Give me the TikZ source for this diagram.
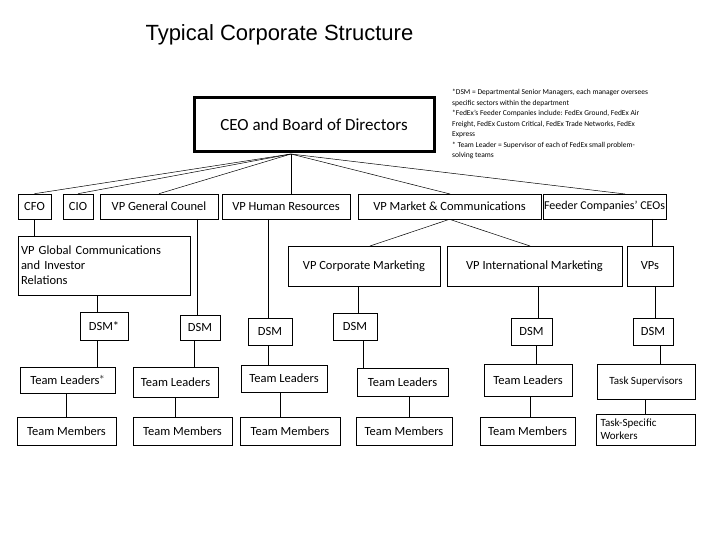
\documentclass[tikz,border=0pt]{standalone}
\usepackage{fontspec}
\setmainfont{Carlito}
\newfontfamily\titlefont{Liberation Sans}
\newcommand{\bbox}[7]{\node[bx,minimum width={#4-#2},minimum height={#5-#3},#6] (#1) at ({(#2+#4)/2},{(#3+#5)/2}) {#7};}
\begin{document}
\begin{tikzpicture}[x=1pt,y=-1pt,
  bx/.style={draw,line width=0.6pt,inner sep=1pt,font=\fontsize{12.5}{15}\selectfont},
  ln/.style={draw,line width=0.5pt}]
\useasboundingbox (0,0) rectangle (720,540);
\node[font=\titlefont\fontsize{22}{26}\selectfont,anchor=west] (title) at (142,35) {Typical Corporate Structure};
\node[draw,line width=3pt,minimum width=240,minimum height=54,font=\fontsize{17}{20}\selectfont] (ceo) at (314,125) {CEO and Board of Directors};
\node[anchor=north west,align=left,font=\fontsize{7.5}{10.5}\selectfont,inner sep=0pt] (note) at (452,89) {*DSM = Departmental Senior Managers, each manager oversees\\specific sectors within the department\\*FedEx's Feeder Companies include: FedEx Ground, FedEx Air\\Freight, FedEx Custom Critical, FedEx Trade Networks, FedEx\\Express\\* Team Leader = Supervisor of each of FedEx small problem-\\solving teams};
\bbox{cfo}{18}{194}{51}{219}{}{CFO}
\bbox{cio}{63}{194}{93}{219}{}{CIO}
\bbox{gen}{100}{194}{218}{219}{}{VP General Counel}
\bbox{hr}{222}{194}{350}{219}{}{VP Human Resources}
\bbox{mkt}{358}{194}{541}{219}{}{VP Market \& Communications}
\bbox{feed}{545}{194}{664}{219}{font=\fontsize{12}{14}\selectfont}{Feeder Companies' CEOs}
\bbox{glob}{18}{236}{190}{295}{align=left,text width=166}{VP Global Communications\\and Investor\\Relations}
\bbox{corp}{288}{246}{440}{286}{}{VP Corporate Marketing}
\bbox{intl}{447}{246}{622}{286}{}{VP International Marketing}
\bbox{vps}{627}{246}{673}{286}{}{VPs}
\bbox{d1}{80}{312}{128}{340}{}{DSM*}
\bbox{d2}{180}{315}{220}{340}{}{DSM}
\bbox{d3}{248}{318}{292}{345}{}{DSM}
\bbox{d4}{333}{313}{377}{340}{}{DSM}
\bbox{d5}{511}{318}{552}{345}{}{DSM}
\bbox{d6}{633}{318}{673}{345}{}{DSM}
\bbox{t1}{20}{367}{115}{393}{}{Team Leaders$^{*}$}
\bbox{t2}{133}{367}{218}{397}{}{Team Leaders}
\bbox{t3}{241}{365}{327}{392}{}{Team Leaders}
\bbox{t4}{357}{368}{448}{396}{}{Team Leaders}
\bbox{t5}{484}{364}{572}{396}{}{Team Leaders}
\bbox{t6}{597}{364}{695}{399}{font=\fontsize{11}{13}\selectfont}{Task Supervisors}
\bbox{m1}{17}{417}{116}{445}{}{Team Members}
\bbox{m2}{133}{417}{232}{445}{}{Team Members}
\bbox{m3}{240}{417}{340}{445}{}{Team Members}
\bbox{m4}{356}{417}{452}{445}{}{Team Members}
\bbox{m5}{480}{417}{575}{445}{}{Team Members}
\bbox{m6}{596}{414}{695}{445}{align=left,text width=90,font=\fontsize{11}{13}\selectfont}{Task-Specific\\Workers}
\coordinate (c0) at (291,154);
\draw[ln] (c0) -- (cfo.north);
\draw[ln] (c0) -- (cio.north);
\draw[ln] (c0) -- (gen.north);
\draw[ln] (c0) -- (291,194);
\draw[ln] (c0) -- (450,194);
\draw[ln] (c0) -- (625,194);
\draw[ln] (cfo.south) -- (cfo.south|-glob.north);
\draw[ln] (mkt.south) -- (370,246);
\draw[ln] (mkt.south) -- (530,246);
\draw[ln] (652,219) -- (652,246);
\draw[ln] (97,295) -- (97,312);
\draw[ln] (197,219) -- (197,315);
\draw[ln] (268,219) -- (268,318);
\draw[ln] (358,286) -- (358,313);
\draw[ln] (538,286) -- (538,318);
\draw[ln] (655,286) -- (655,318);
\draw[ln] (97,340) -- (97,367);
\draw[ln] (194,340) -- (194,367);
\draw[ln] (268,345) -- (268,365);
\draw[ln] (363,340) -- (363,368);
\draw[ln] (536,345) -- (536,364);
\draw[ln] (660,345) -- (660,364);
\draw[ln] (66,393) -- (66,417);
\draw[ln] (175,397) -- (175,417);
\draw[ln] (280,392) -- (280,417);
\draw[ln] (409,396) -- (409,417);
\draw[ln] (530,396) -- (530,417);
\draw[ln] (645,399) -- (645,414);
\end{tikzpicture}
\end{document}
